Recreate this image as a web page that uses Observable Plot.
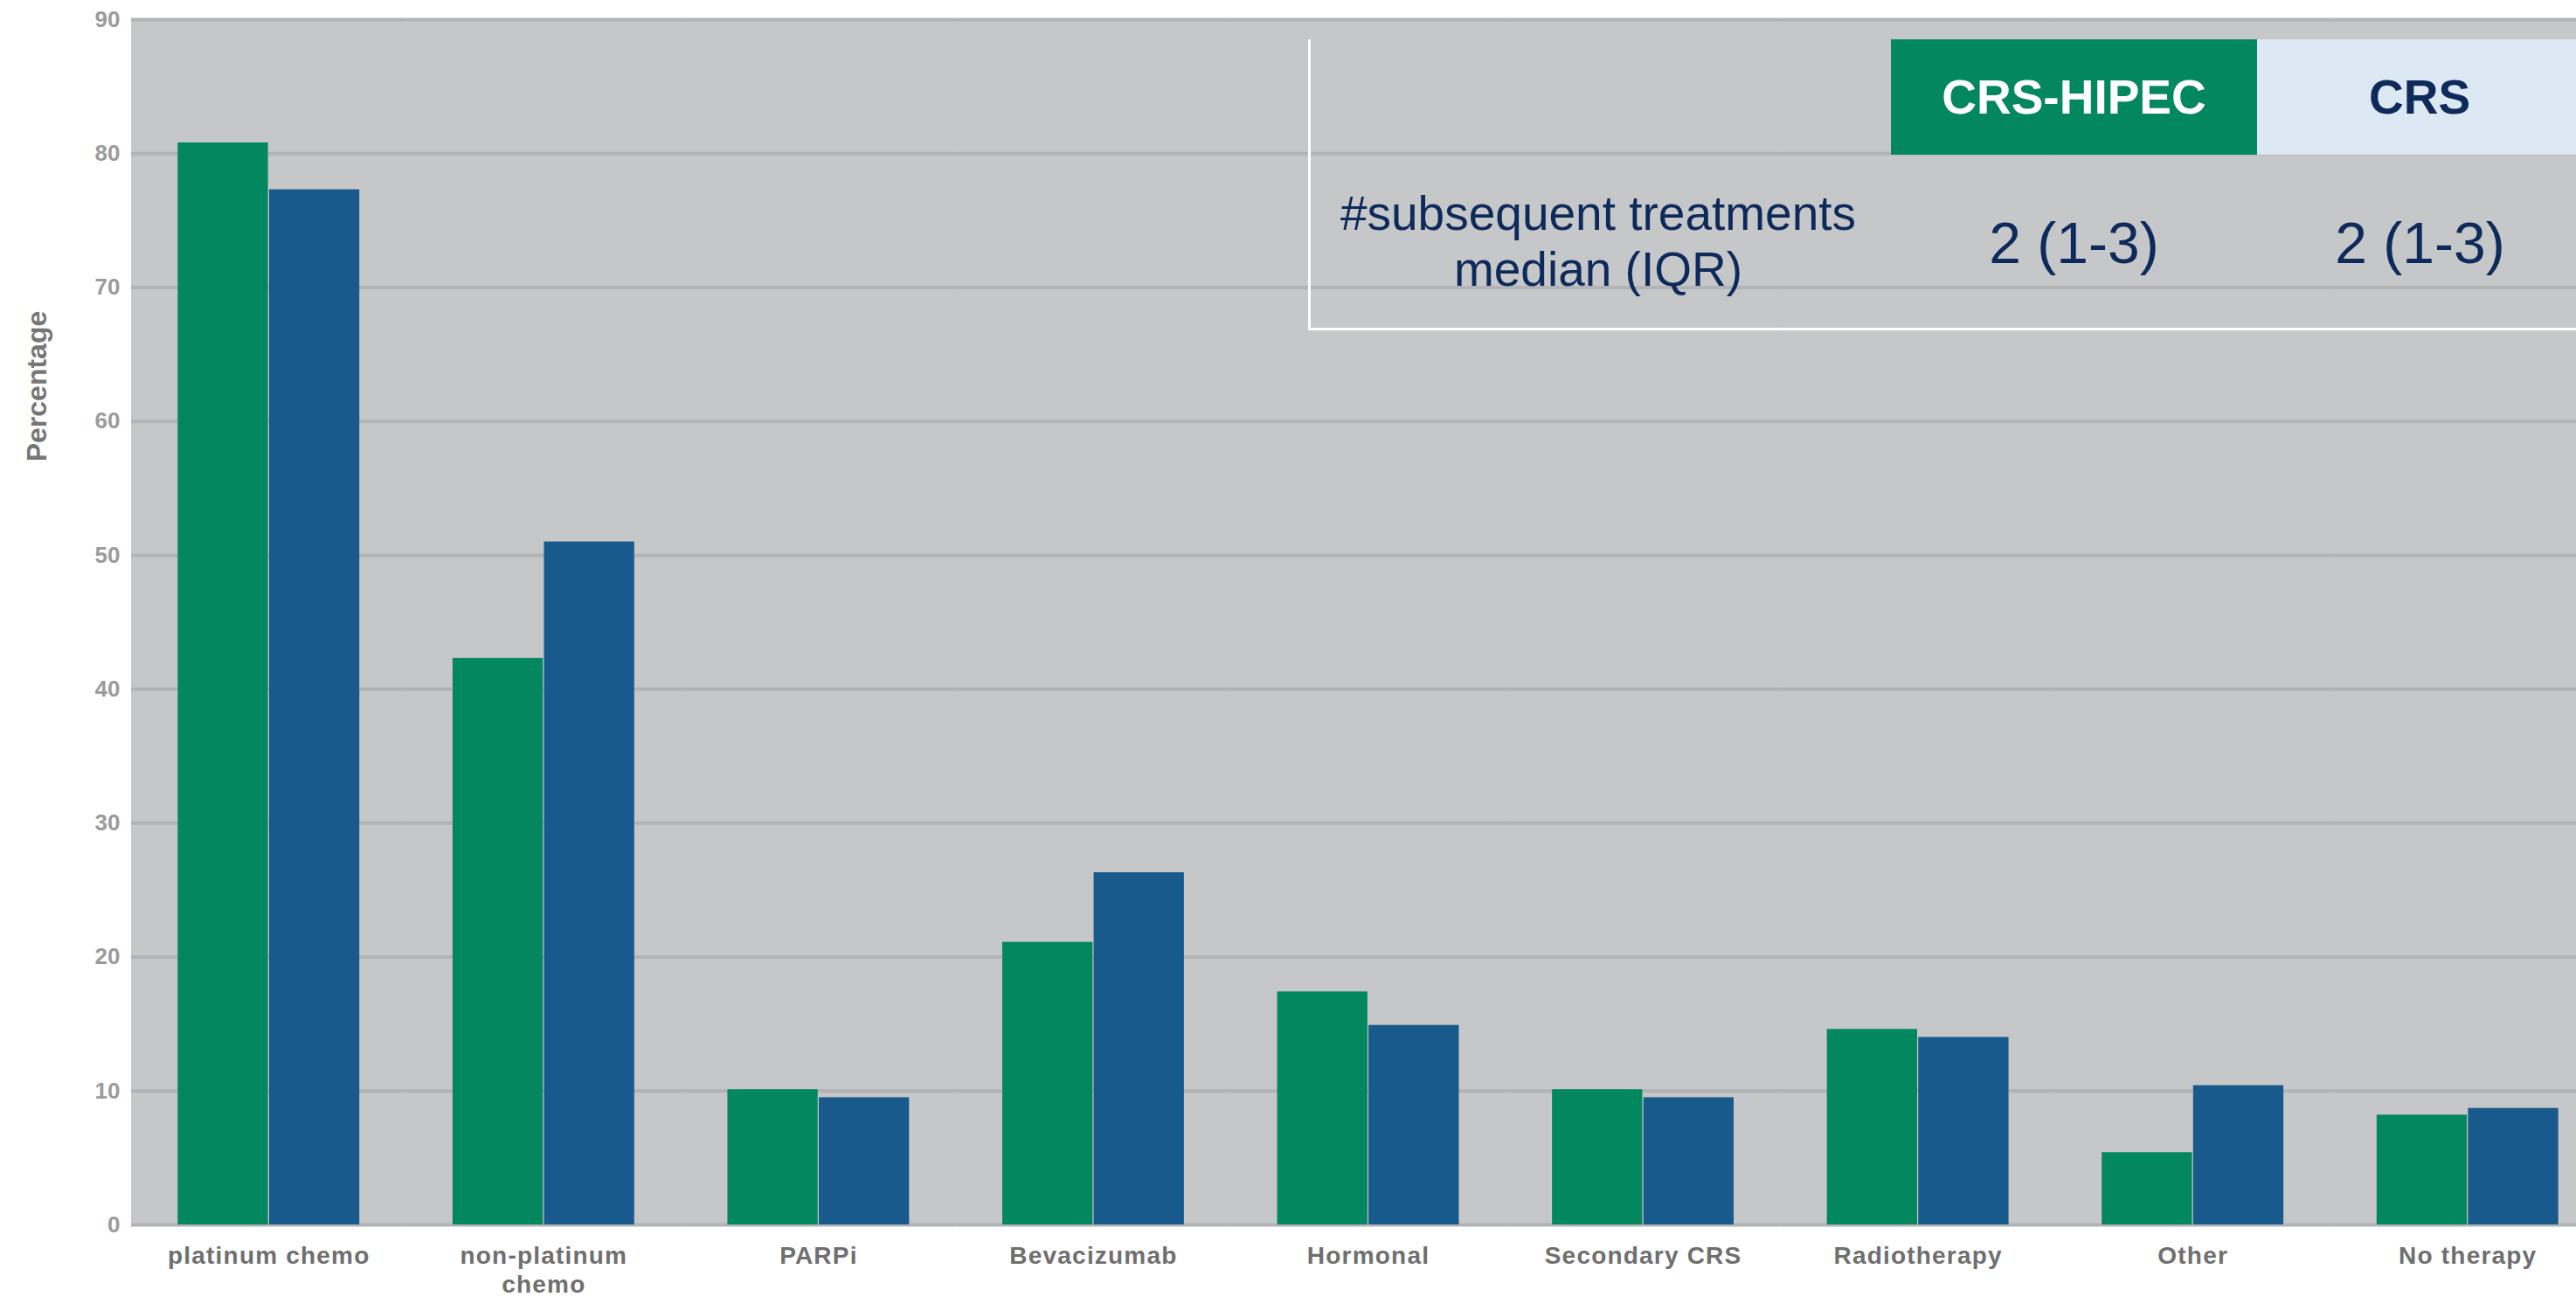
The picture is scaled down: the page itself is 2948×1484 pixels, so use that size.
<!DOCTYPE html>
<html>
<head>
<meta charset="utf-8">
<script src="https://cdn.jsdelivr.net/npm/d3@7"></script>
<script src="https://cdn.jsdelivr.net/npm/@observablehq/plot@0.6"></script>
<style>
  html, body { margin: 0; padding: 0; background: #ffffff; }
  #wrap { position: relative; width: 2948px; height: 1484px; overflow: hidden; font-family: "Liberation Sans", Arial, sans-serif; }
  #chart svg { display: block; }
  #chart svg g[aria-label="fx-axis tick label"] text { letter-spacing: 1.2px; }
  .ytitle { position: absolute; left: 42px; top: 442px; transform: translate(-50%, -50%) rotate(-90deg); font-size: 32px; font-weight: bold; color: #767676; white-space: nowrap; }
  .tbl { position: absolute; left: 1497px; top: 45px; width: 1460px; height: 330px; border-left: 3px solid #ffffff; border-bottom: 3px solid #ffffff; }
  .hdr { position: absolute; top: 45px; height: 132px; display: flex; align-items: center; justify-content: center; font-size: 55px; font-weight: bold; }
  .hipec { left: 2164px; width: 419px; background: #02875f; color: #ffffff; }
  .crs { left: 2583px; width: 372px; background: #dce8f4; color: #0e2a5a; }
  .rowlbl { position: absolute; left: 1529px; width: 600px; top: 212px; text-align: center; font-size: 55px; line-height: 64px; color: #0e2a5a; }
  .val { position: absolute; top: 238px; width: 419px; text-align: center; font-size: 66px; line-height: 80px; color: #0e2a5a; }
</style>
</head>
<body>
<div id="wrap">
  <div id="chart"></div>
</div>
<script>
const categories = ["platinum chemo", "non-platinum\nchemo", "PARPi", "Bevacizumab", "Hormonal", "Secondary CRS", "Radiotherapy", "Other", "No therapy"];
const series = ["CRS-HIPEC", "CRS"];
const hipecValues = [80.8, 42.3, 10.1, 21.1, 17.4, 10.1, 14.6, 5.4, 8.2];
const crsValues = [77.3, 51.0, 9.5, 26.3, 14.9, 9.5, 14.0, 10.4, 8.7];
const yTicks = [0, 10, 20, 30, 40, 50, 60, 70, 80, 90];
const tableRowLabel = ["#subsequent treatments", "median (IQR)"];
const tableValues = ["2 (1-3)", "2 (1-3)"];
const yTitle = "Percentage";

const rows = [];
categories.forEach((c, i) => {
  rows.push({category: c, series: series[0], value: hipecValues[i]});
  rows.push({category: c, series: series[1], value: crsValues[i]});
});

const chart = Plot.plot({
  width: 2948,
  height: 1484,
  marginLeft: 150,
  marginRight: -33,
  marginTop: 22,
  marginBottom: 83,
  style: {fontFamily: "Liberation Sans, Arial, sans-serif", background: "transparent"},
  fx: {domain: categories, paddingInner: 0, paddingOuter: 0, round: false},
  x: {domain: series, paddingInner: 0.012, paddingOuter: 0.51, axis: null, round: false},
  y: {domain: [0, 90]},
  color: {domain: series, range: ["#03875f", "#185a8c"]},
  marks: [
    Plot.frame({fill: "#c6c7c9", stroke: "#c6c7c9", strokeWidth: 1}),
    Plot.gridY(yTicks, {stroke: "#b2b3b5", strokeOpacity: 1, strokeWidth: 4}),
    Plot.barY(rows, {fx: "category", x: "series", y: "value", fill: "series"}),
    Plot.axisY(yTicks, {tickSize: 0, tickPadding: 13, fontSize: 26, fontWeight: "bold", fill: "#9b9b9b", label: null}),
    Plot.axisFx({anchor: "bottom", tickSize: 0, tickPadding: 22, fontSize: 28, fontWeight: "bold", fill: "#6f6f6f", lineHeight: 1.15, label: null})
  ]
});
document.getElementById("chart").appendChild(chart);

const wrap = document.getElementById("wrap");
function addDiv(cls, html) {
  const d = document.createElement("div");
  d.className = cls;
  d.innerHTML = html;
  wrap.appendChild(d);
  return d;
}
addDiv("ytitle", yTitle);
addDiv("tbl", "");
addDiv("hdr hipec", series[0]);
addDiv("hdr crs", series[1]);
addDiv("rowlbl", tableRowLabel.join("<br>"));
const v1 = addDiv("val", tableValues[0]); v1.style.left = "2164px";
const v2 = addDiv("val", tableValues[1]); v2.style.left = "2560px";
</script>
</body>
</html>
